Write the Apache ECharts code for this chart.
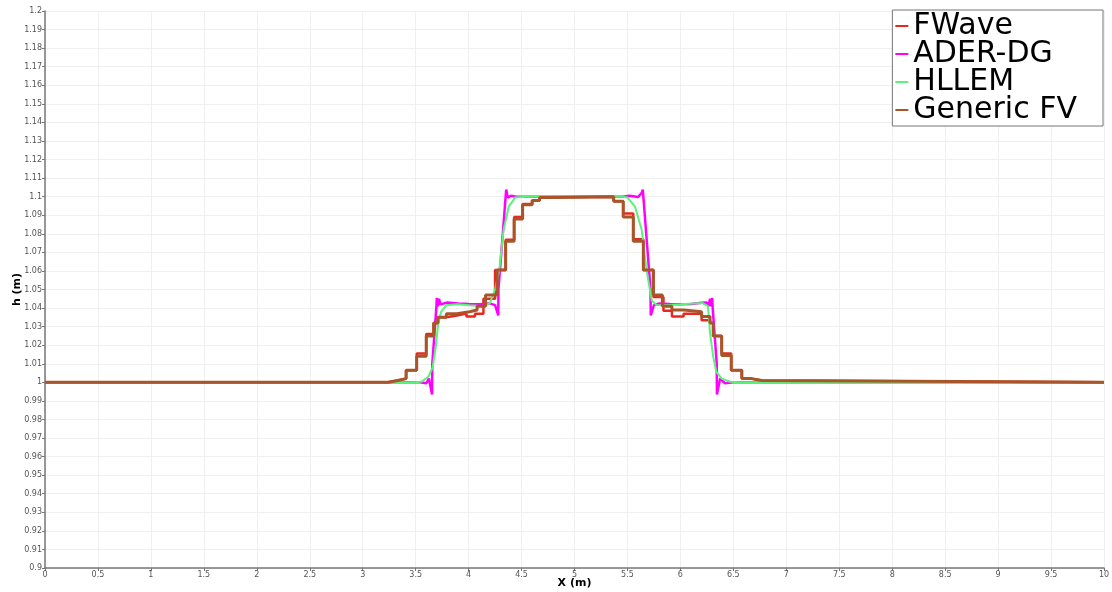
<!DOCTYPE html>
<html><head><meta charset="utf-8">
<script src="https://cdn.jsdelivr.net/npm/echarts@6/dist/echarts.min.js"></script>
<style>html,body{margin:0;padding:0;background:#fff}#c{width:1112px;height:592px}</style>
</head><body><div id="c"></div>
<script>
// Axis ticks
const xMin = 0, xMax = 10, xStep = 0.5;
const yMin = 0.9, yMax = 1.2, yStep = 0.01;

// FWave (piecewise constant: value hs[i] holds from xs[i] to xs[i+1])
const fwX = [0, 3.24, 3.33, 3.41, 3.51, 3.60, 3.67, 3.71, 3.79, 3.89, 3.98, 4.06, 4.14, 4.25, 4.35, 4.43, 4.51, 4.60, 4.67, 4.75, 5.37, 5.46, 5.555, 5.65, 5.745, 5.84, 5.92, 6.03, 6.20, 6.28, 6.31, 6.39, 6.48, 6.58, 6.67, 6.77, 10];
const fwH = [1.0, 1.001, 1.002, 1.0065, 1.0155, 1.026, 1.032, 1.035, 1.036, 1.037, 1.0355, 1.037, 1.045, 1.0605, 1.0768, 1.089, 1.096, 1.098, 1.0995, 1.1, 1.0975, 1.091, 1.077, 1.0605, 1.046, 1.0385, 1.0355, 1.037, 1.0335, 1.032, 1.025, 1.0155, 1.0065, 1.002, 1.001, 1.0, 1.0];

// ADER-DG
const adX = [0, 3.54, 3.60, 3.625, 3.655, 3.657, 3.68, 3.695, 3.70, 3.71, 3.72, 3.735, 3.80, 3.90, 4.00, 4.10, 4.20, 4.25, 4.28, 4.282, 4.355, 4.37, 4.40, 4.45, 4.55, 5.45, 5.52, 5.60, 5.635, 5.645, 5.718, 5.72, 5.75, 5.80, 5.90, 6.00, 6.10, 6.20, 6.25, 6.265, 6.28, 6.29, 6.30, 6.305, 6.32, 6.343, 6.345, 6.375, 6.42, 6.50, 10];
const adH = [1.0, 1.0, 0.9995, 1.002, 0.9935, 1.01, 1.028, 1.04, 1.0455, 1.041, 1.045, 1.042, 1.043, 1.0425, 1.0422, 1.042, 1.0425, 1.0416, 1.036, 1.05, 1.1038, 1.0995, 1.1005, 1.1, 1.1, 1.1, 1.1005, 1.0998, 1.102, 1.1038, 1.05, 1.036, 1.0416, 1.0425, 1.0422, 1.042, 1.0422, 1.0428, 1.043, 1.041, 1.045, 1.041, 1.0455, 1.04, 1.028, 1.01, 0.9935, 1.002, 0.9995, 1.0, 1.0];

// HLLEM
const hlX = [0, 3.50, 3.56, 3.62, 3.66, 3.69, 3.71, 3.74, 3.79, 3.89, 4.01, 4.14, 4.20, 4.25, 4.29, 4.33, 4.38, 4.44, 4.54, 5.46, 5.50, 5.57, 5.635, 5.68, 5.73, 5.775, 5.87, 6.0, 6.12, 6.21, 6.26, 6.28, 6.31, 6.34, 6.39, 6.47, 6.55, 10];
const hlH = [1.0, 1.0, 1.0005, 1.003, 1.008, 1.019, 1.030, 1.038, 1.0415, 1.042, 1.0415, 1.041, 1.0425, 1.05, 1.0605, 1.082, 1.0948, 1.0995, 1.1, 1.1, 1.0995, 1.0948, 1.082, 1.0605, 1.044, 1.0416, 1.0415, 1.042, 1.0425, 1.0427, 1.041, 1.0265, 1.0137, 1.0056, 1.002, 1.0003, 1.0, 1.0];

// Generic FV (piecewise constant)
const gfX = [0, 3.24, 3.33, 3.41, 3.51, 3.60, 3.67, 3.71, 3.79, 3.89, 4.01, 4.08, 4.16, 4.27, 4.35, 4.43, 4.51, 4.60, 4.67, 4.75, 5.37, 5.46, 5.555, 5.65, 5.745, 5.83, 5.92, 6.03, 6.20, 6.28, 6.31, 6.39, 6.48, 6.58, 6.67, 6.77, 10];
const gfH = [1.0, 1.001, 1.002, 1.0065, 1.014, 1.025, 1.032, 1.035, 1.037, 1.038, 1.039, 1.041, 1.047, 1.0605, 1.076, 1.088, 1.0957, 1.098, 1.0995, 1.1, 1.0975, 1.089, 1.076, 1.0605, 1.047, 1.041, 1.039, 1.038, 1.0355, 1.032, 1.025, 1.0145, 1.0065, 1.002, 1.001, 1.0, 1.0];

const names = ['FWave', 'ADER-DG', 'HLLEM', 'Generic FV'];
const colors = ['#e8281e', '#ff00ff', '#5cf07c', '#a9552a'];

const pairs = (xs, hs) => xs.map((x, i) => [x, hs[i]]);
// piecewise-constant data: each value held until the next breakpoint
const stepPairs = (xs, hs) => {
  const out = [];
  for (let i = 0; i < xs.length - 1; i++) { out.push([xs[i], hs[i]]); out.push([xs[i + 1], hs[i]]); }
  out.push([xs[xs.length - 1], hs[hs.length - 1]]);
  return out;
};
const chart = echarts.init(document.getElementById('c'));
const labelStyle = { fontFamily: 'DejaVu Sans', fontSize: 8, color: '#555' };
chart.setOption({
  animation: false,
  backgroundColor: '#fff',
  grid: { left: 45, right: 8, top: 11, bottom: 24, containLabel: false, outerBoundsMode: 'none' },
  legend: {
    orient: 'vertical', right: 9, top: 10,
    backgroundColor: '#fff', borderColor: '#777', borderWidth: 1,
    padding: [1, 26, 1, 3], itemGap: -2, itemWidth: 13, itemHeight: 2,
    textStyle: { fontFamily: 'DejaVu Sans', fontSize: 30, color: '#000' },
    data: names.map(n => ({ name: n, icon: 'rect' }))
  },
  xAxis: {
    type: 'value', min: xMin, max: xMax, interval: xStep,
    name: 'X (m)', nameLocation: 'middle', nameGap: 10, nameMoveOverlap: false,
    nameTextStyle: { fontFamily: 'DejaVu Sans', fontSize: 11, fontWeight: 'bold', color: '#000' },
    axisLine: { lineStyle: { color: '#777', width: 1.5 } },
    axisTick: { length: 3, lineStyle: { color: '#777' } },
    axisLabel: Object.assign({ margin: 3 }, labelStyle),
    splitLine: { show: true, lineStyle: { color: '#f0f0f0', width: 1 } }
  },
  yAxis: {
    type: 'value', min: yMin, max: yMax, interval: yStep,
    name: 'h (m)', nameLocation: 'middle', nameGap: 22, nameRotate: 90, nameMoveOverlap: false,
    nameTextStyle: { fontFamily: 'DejaVu Sans', fontSize: 11, fontWeight: 'bold', color: '#000' },
    axisLine: { show: true, lineStyle: { color: '#777', width: 1.5 } },
    axisTick: { show: true, length: 3, lineStyle: { color: '#777' } },
    axisLabel: Object.assign({ margin: 3, formatter: v => String(+v.toFixed(2)) }, labelStyle),
    splitLine: { show: true, lineStyle: { color: '#f0f0f0', width: 1 } }
  },
  series: [
    { name: names[0], type: 'line', showSymbol: false, data: stepPairs(fwX, fwH), lineStyle: { color: colors[0], width: 2.5 }, itemStyle: { color: colors[0] } },
    { name: names[1], type: 'line', showSymbol: false, data: pairs(adX, adH), lineStyle: { color: colors[1], width: 2.5 }, itemStyle: { color: colors[1] } },
    { name: names[2], type: 'line', showSymbol: false, data: pairs(hlX, hlH), lineStyle: { color: colors[2], width: 2 }, itemStyle: { color: colors[2] } },
    { name: names[3], type: 'line', showSymbol: false, data: stepPairs(gfX, gfH), lineStyle: { color: colors[3], width: 3 }, itemStyle: { color: colors[3] } }
  ]
});
</script></body></html>
